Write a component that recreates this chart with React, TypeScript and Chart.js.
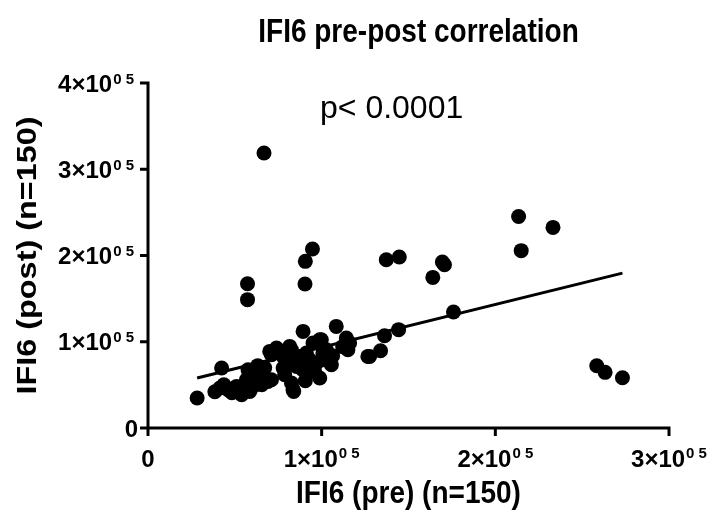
import React, { useEffect, useRef } from "react";
import { Chart, registerables } from "chart.js";

Chart.register(...registerables);

// IFI6 pre values (x) and post values (y)
const preValues = [
  66800, 94700, 90600, 90400, 57300, 57300, 213400, 233200, 214900, 137200,
  144700, 169500, 170700, 164000, 175900, 144300, 136200, 133900, 127600, 258400,
  263200, 273200, 28300, 42400, 57600, 70100, 69100, 41400, 46100, 51000,
  53900, 56700, 60500, 58600, 38500, 48300, 43700, 54600, 63200, 65500,
  77800, 71100, 74900, 82600, 81600, 82600, 83900, 90600, 98900, 89300,
  87400, 91200, 95000, 99800, 100700, 105600, 108400, 114200, 115100, 93100,
  85500, 77800, 97000, 102700, 74000, 83500, 71100, 81600, 98900, 100700,
  116100, 126600, 112100, 106300, 96000, 89100, 78700, 63200, 67200, 66100,
];
const postValues = [
  318800, 207500, 193200, 167000, 167300, 148800, 245300, 232600, 205600, 195100,
  198300, 192500, 189300, 174600, 134500, 114000, 107000, 89600, 83000, 72200,
  64500, 58300, 34800, 69600, 67600, 88800, 54000, 46400, 44400, 48200,
  38600, 56000, 48200, 42400, 42100, 41000, 50200, 45600, 58300, 50200,
  69600, 85000, 90800, 90800, 75400, 52200, 42400, 54800, 58000, 112000,
  83000, 87000, 98600, 102400, 87000, 73400, 117800, 104300, 90800, 79200,
  71400, 83000, 75400, 90800, 92800, 44400, 56000, 94600, 102400, 79200,
  98600, 83000, 94300, 83800, 65300, 67600, 61800, 72300, 69900, 64100,
];

// regression line end points
const fitX = [28300, 273200];
const fitY = [57900, 179600];

const xTicks = [0, 100000, 200000, 300000];
const yTicks = [0, 100000, 200000, 300000, 400000];
const xTickLabels = ["0", "1×10", "2×10", "3×10"];
const yTickLabels = ["0", "1×10", "2×10", "3×10", "4×10"];
const tickExponent = "0 5";

const titleText = "IFI6 pre-post correlation";
const xTitle = "IFI6 (pre) (n=150)";
const yTitle = "IFI6 (post) (n=150)";
const pText = "p< 0.0001";

const FONT = '"Liberation Sans", Arial, sans-serif';

function drawText(
  ctx: CanvasRenderingContext2D,
  text: string,
  x: number,
  y: number,
  size: number,
  weight: string,
  align: CanvasTextAlign,
  sx = 1,
  sy = 1,
  rot = 0
) {
  ctx.save();
  ctx.translate(x, y);
  if (rot) ctx.rotate(rot);
  ctx.scale(sx, sy);
  ctx.font = `${weight} ${size}px ${FONT}`;
  ctx.textAlign = align;
  ctx.textBaseline = "alphabetic";
  ctx.fillStyle = "#000";
  ctx.fillText(text, 0, 0);
  ctx.restore();
}

const MAIN_SIZE = 24;
const SUP_SIZE = 15;

const decorPlugin = {
  id: "decor",
  beforeDatasetsDraw(chart: any) {
    const ctx: CanvasRenderingContext2D = chart.ctx;
    const xs = chart.scales.x;
    const ys = chart.scales.y;
    const L = xs.getPixelForValue(0);
    const R = xs.getPixelForValue(300000);
    const B = ys.getPixelForValue(0);
    const T = ys.getPixelForValue(400000);
    ctx.save();
    ctx.strokeStyle = "#000";
    ctx.lineWidth = 3;
    ctx.lineCap = "butt";
    ctx.beginPath();
    ctx.moveTo(L - 1.5, B);
    ctx.lineTo(R + 1.5, B);
    ctx.moveTo(L, B + 1.5);
    ctx.lineTo(L, T - 1.5);
    for (const v of xTicks) {
      const px = xs.getPixelForValue(v);
      ctx.moveTo(px, B);
      ctx.lineTo(px, B + 8);
    }
    for (const v of yTicks) {
      const py = ys.getPixelForValue(v);
      ctx.moveTo(L, py);
      ctx.lineTo(L - 8, py);
    }
    ctx.stroke();
    ctx.restore();
  },
  afterDraw(chart: any) {
    const ctx: CanvasRenderingContext2D = chart.ctx;
    const xs = chart.scales.x;
    const ys = chart.scales.y;
    const L = xs.getPixelForValue(0);
    const R = xs.getPixelForValue(300000);
    const B = ys.getPixelForValue(0);
    const T = ys.getPixelForValue(400000);
    const cx = (L + R) / 2;
    const cy = (T + B) / 2;

    // title
    drawText(ctx, titleText, cx + 10, 42, 28, "bold", "center", 1, 1.2);
    // p value
    drawText(ctx, pText, 320, 118, 32, "normal", "left");

    // x tick labels
    xTicks.forEach((v, i) => {
      const px = xs.getPixelForValue(v);
      const label = xTickLabels[i];
      if (v === 0) {
        drawText(ctx, label, px, B + 39, MAIN_SIZE, "bold", "center");
        return;
      }
      ctx.font = `bold ${MAIN_SIZE}px ${FONT}`;
      const wMain = ctx.measureText(label).width;
      ctx.font = `bold ${SUP_SIZE}px ${FONT}`;
      const wSup = ctx.measureText(tickExponent).width;
      const total = wMain + 1 + wSup;
      const x0 = px - total / 2;
      drawText(ctx, label, x0, B + 39, MAIN_SIZE, "bold", "left");
      drawText(ctx, tickExponent, x0 + wMain + 1, B + 30, SUP_SIZE, "bold", "left");
    });

    // y tick labels
    yTicks.forEach((v, i) => {
      const py = ys.getPixelForValue(v);
      const label = yTickLabels[i];
      if (v === 0) {
        drawText(ctx, label, L - 10, py + 8.5, MAIN_SIZE, "bold", "right");
        return;
      }
      ctx.font = `bold ${SUP_SIZE}px ${FONT}`;
      const wSup = ctx.measureText(tickExponent).width;
      const right = L - 14;
      drawText(ctx, tickExponent, right, py + 0.5, SUP_SIZE, "bold", "right");
      drawText(ctx, label, right - wSup - 1, py + 8.5, MAIN_SIZE, "bold", "right");
    });

    // axis titles
    drawText(ctx, xTitle, cx, 503, 28, "bold", "center", 1, 1.15);
    drawText(ctx, yTitle, 36, cy, 27, "bold", "center", 1.2, 1, -Math.PI / 2);
  },
};

export default function App() {
  const ref = useRef<HTMLCanvasElement | null>(null);

  useEffect(() => {
    document.body.style.margin = "0";
    const canvas = ref.current;
    if (!canvas) return;
    const points = preValues.map((x, i) => ({ x, y: postValues[i] }));
    const fit = fitX.map((x, i) => ({ x, y: fitY[i] }));
    const chart = new Chart(canvas, {
      type: "scatter",
      data: {
        datasets: [
          {
            type: "line",
            label: "fit",
            data: fit,
            borderColor: "#000",
            borderWidth: 3,
            pointRadius: 0,
            fill: false,
            clip: false,
          } as any,
          {
            label: "IFI6",
            data: points,
            backgroundColor: "#000",
            borderColor: "#000",
            borderWidth: 0,
            pointRadius: 7.5,
            pointHoverRadius: 7.5,
            clip: false,
          } as any,
        ],
      },
      options: {
        responsive: false,
        animation: false,
        events: [],
        layout: { padding: { left: 148, right: 40, top: 83, bottom: 82 } },
        plugins: {
          legend: { display: false },
          title: { display: false },
          tooltip: { enabled: false },
        },
        scales: {
          x: { type: "linear", min: 0, max: 300000, display: false },
          y: { type: "linear", min: 0, max: 400000, display: false },
        },
      },
      plugins: [decorPlugin],
    });
    return () => chart.destroy();
  }, []);

  return (
    <div style={{ position: "fixed", left: 0, top: 0, width: 709, height: 510, background: "#fff" }}>
      <canvas ref={ref} width={709} height={510} style={{ display: "block" }} />
    </div>
  );
}
